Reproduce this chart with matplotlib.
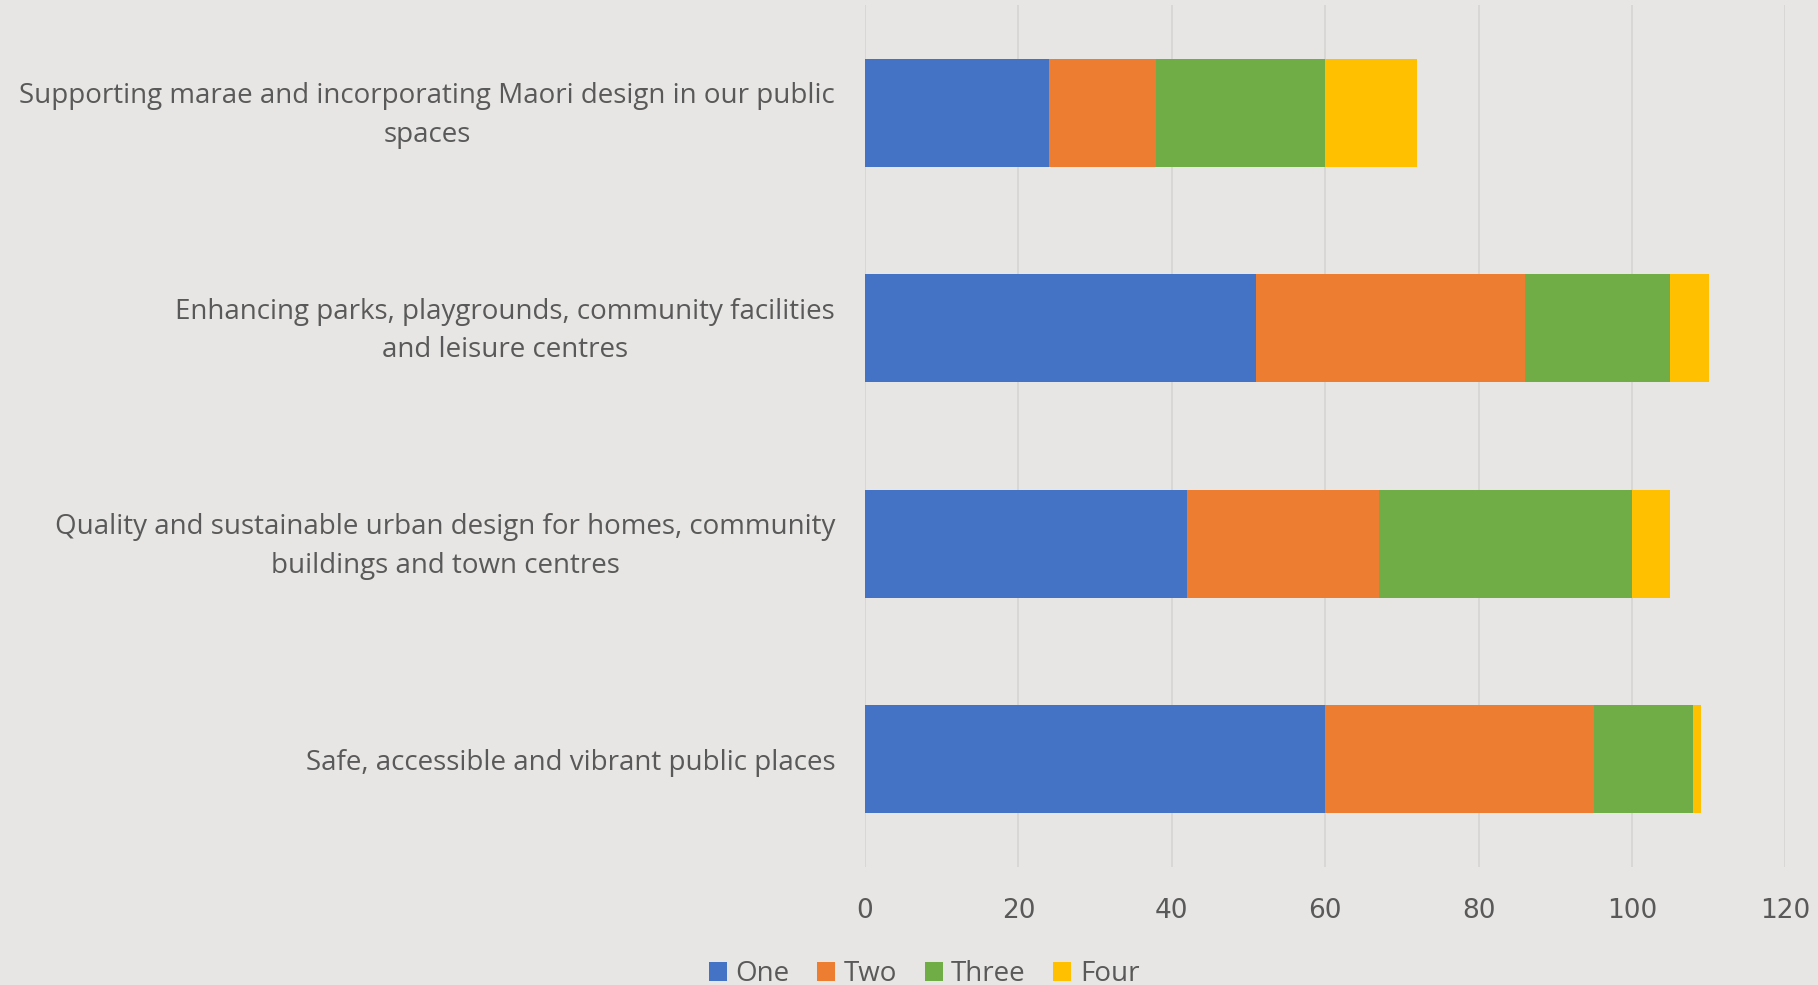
import matplotlib
matplotlib.use("Agg")
import matplotlib.pyplot as plt
import matplotlib.transforms as mtransforms
import numpy as np

categories = [
    "Safe, accessible and vibrant public places",
    "Quality and sustainable urban design for homes, community\nbuildings and town centres",
    "Enhancing parks, playgrounds, community facilities\nand leisure centres",
    "Supporting marae and incorporating Maori design in our public\nspaces",
]
series_names = ["One", "Two", "Three", "Four"]
one = [60, 42, 51, 24]
two = [35, 25, 35, 14]
three = [13, 33, 19, 22]
four = [1, 5, 5, 12]
colors = ["#4472C4", "#ED7D31", "#70AD47", "#FFC000"]
xticks = [0, 20, 40, 60, 80, 100, 120]

bg = "#E8E6E4"
txt = "#595959"

fig = plt.figure(figsize=(18.18, 9.85), dpi=100, facecolor=bg)
ax = fig.add_axes([0.4758, 0.1198, 0.5062, 0.8752])
ax.set_facecolor(bg)

y = np.arange(len(categories))
left = np.zeros(len(categories))
for name, vals, c in zip(series_names, [one, two, three, four], colors):
    ax.barh(y, vals, left=left, height=0.5, color=c, label=name, zorder=3)
    left += np.array(vals)

ax.set_xlim(0, 120)
ax.set_ylim(-0.5, len(categories) - 0.5)
ax.set_xticks(xticks)
ax.set_yticks(y)
ax.set_yticklabels(categories, fontsize=20, color=txt, family="Open Sans",
                   linespacing=1.5, ha="right", multialignment="center")
ax.tick_params(axis="y", length=0, pad=21.5)
ax.tick_params(axis="x", length=0, pad=22, labelsize=19, labelcolor=txt)
# two-line labels sit a little higher in the original
lift = mtransforms.ScaledTranslation(0, 6 / 100, fig.dpi_scale_trans)
for lab in ax.get_yticklabels():
    if "\n" in lab.get_text():
        lab.set_transform(lab.get_transform() + lift)
ax.grid(axis="x", color="#D6D4D2", linewidth=1.2, zorder=0)
for s in ax.spines.values():
    s.set_visible(False)

leg = fig.legend(loc="center", bbox_to_anchor=(924 / 1818, 1 - 974 / 985), ncol=4,
                 frameon=False, handlelength=0.65, handleheight=0.65,
                 handletextpad=0.3, columnspacing=1.0,
                 prop={"family": "Open Sans", "size": 20})
for t in leg.get_texts():
    t.set_color(txt)

fig.savefig("out.png", dpi=100, facecolor=bg)
